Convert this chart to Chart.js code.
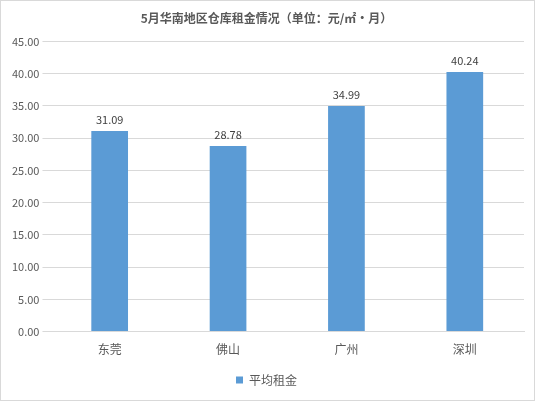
<!DOCTYPE html>
<html><head><meta charset="utf-8">
<script src="https://cdn.jsdelivr.net/npm/chart.js@4/dist/chart.umd.min.js"></script>
<style>html,body{margin:0;padding:0;background:#fff}#w{width:533px;height:399px;border:1px solid #d9d9d9}</style>
</head><body><div id="w"><canvas id="c"></canvas></div>
<script>
const categories = ["东莞","佛山","广州","深圳"];
const values = [31.09, 28.78, 34.99, 40.24];
const seriesName = "平均租金";
const titleText = "5月华南地区仓库租金情况（单位：元/㎡·月）";
const font = "'Noto Sans CJK SC', 'Noto Sans', sans-serif";
const labelPlugin = {
  id: 'lbl',
  afterDatasetsDraw(chart) {
    const ctx = chart.ctx;
    const meta = chart.getDatasetMeta(0);
    ctx.save();
    ctx.font = "11px " + font;
    ctx.fillStyle = "#404040";
    ctx.textAlign = "center";
    ctx.textBaseline = "bottom";
    meta.data.forEach((b, i) => ctx.fillText(values[i].toFixed(2), b.x, b.y - 6));
    ctx.restore();
  }
};
new Chart(document.getElementById('c'), {
  type: 'bar',
  data: { labels: categories, datasets: [{ label: seriesName, data: values, backgroundColor: '#5b9bd5', categoryPercentage: 1, barPercentage: 0.31 }] },
  options: {
    responsive: true, maintainAspectRatio: false, animation: false,
    layout: { padding: { left: 8, right: 10, top: 4, bottom: 4 } },
    plugins: {
      title: { display: true, text: titleText, color: '#595959', font: { family: font, size: 12 }, padding: { top: 6, bottom: 16 } },
      legend: { position: 'bottom', labels: { color: '#595959', font: { family: font, size: 12 }, boxWidth: 7, boxHeight: 7, padding: 14 } },
      tooltip: { enabled: false }
    },
    scales: {
      x: { grid: { display: false }, border: { color: '#d9d9d9' }, ticks: { color: '#595959', font: { family: font, size: 12 } } },
      y: { min: 0, max: 45, border: { display: false }, grid: { color: '#d9d9d9' },
           ticks: { stepSize: 5, color: '#595959', font: { family: font, size: 11 }, callback: v => v.toFixed(2) } }
    }
  },
  plugins: [labelPlugin]
});
</script></body></html>
